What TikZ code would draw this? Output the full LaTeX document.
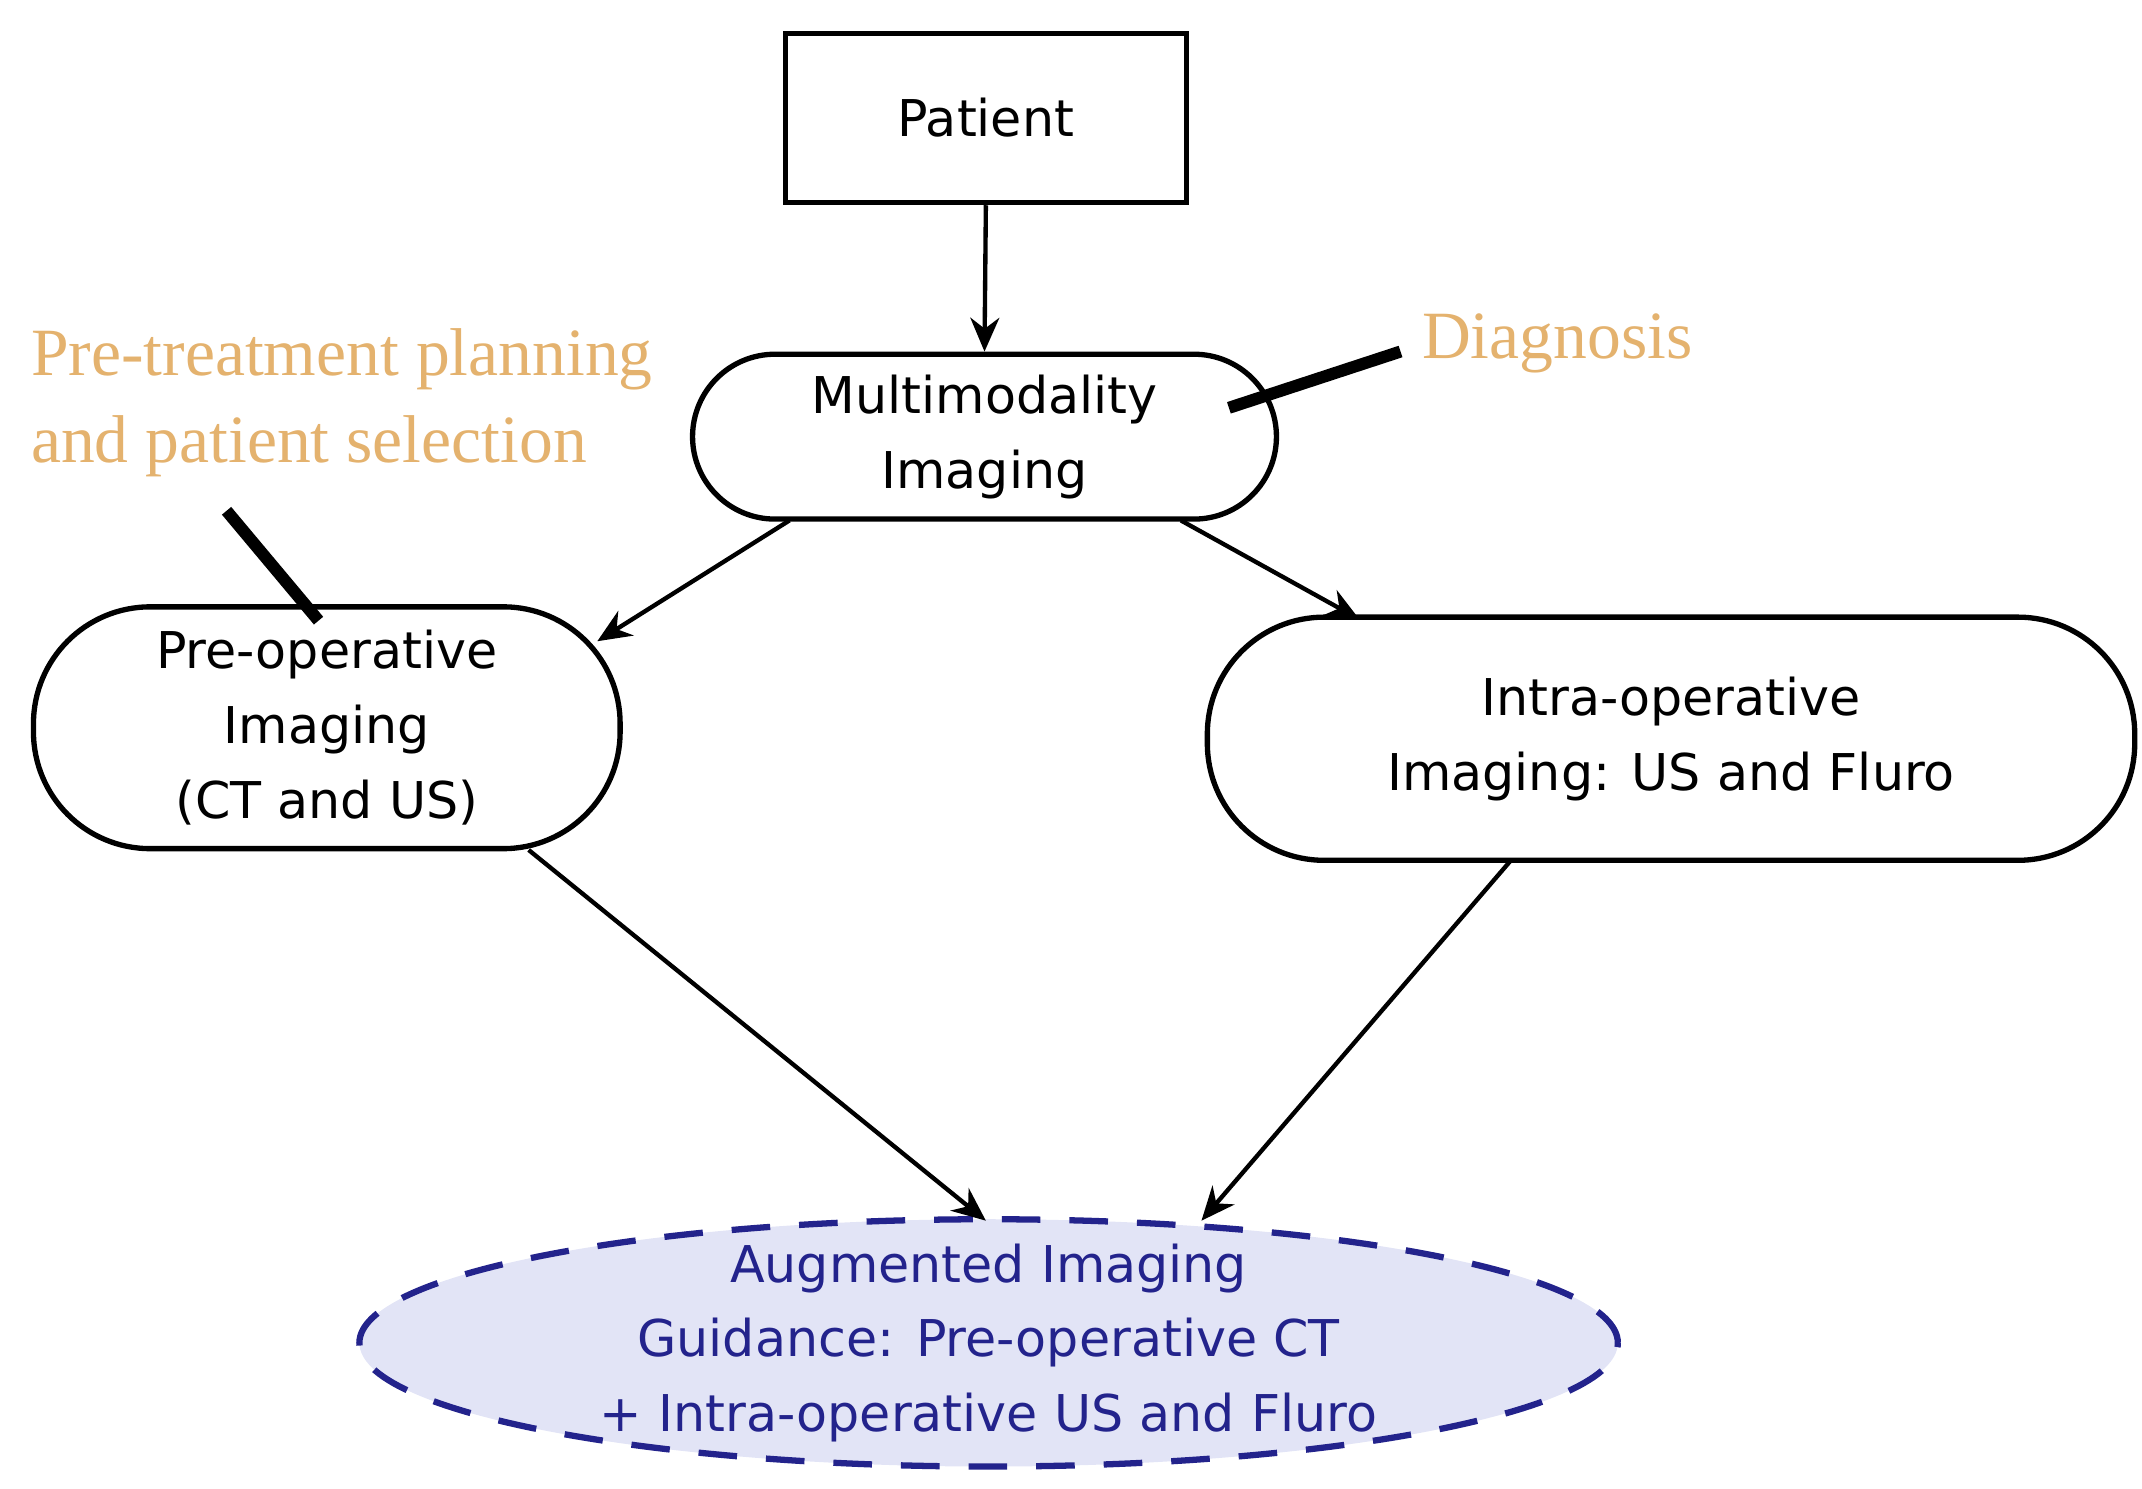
\documentclass[tikz,border=0pt]{standalone}
\usepackage{fontspec}
\setmainfont{DejaVu Sans}
\newfontfamily\ser{Liberation Serif}
\usetikzlibrary{shapes.geometric,arrows.meta}
\definecolor{org}{RGB}{228,178,110}
\definecolor{navy}{RGB}{35,35,140}
\definecolor{lav}{RGB}{226,228,246}
\begin{document}
\begin{tikzpicture}[x=0.01cm,y=-0.01cm,
 box/.style={draw,line width=1.1pt,align=center,font=\fontsize{10.5}{15.5}\selectfont,inner sep=0pt},
 rbox/.style={box,rounded corners=0.6cm},
 arr/.style={-{Stealth[length=7pt,width=6pt]},line width=0.9pt},
 lbl/.style={font=\ser\fontsize{14}{18}\selectfont,text=org,align=left,inner sep=0pt}]
\useasboundingbox (0,0) rectangle (1560,1084);
\node[box,minimum width=2.92cm,minimum height=1.23cm] (pat) at (718,86) {Patient};
\node[rbox,minimum width=4.25cm,minimum height=1.2cm] (mm) at (717,318) {Multimodality\\Imaging};
\node[rbox,rounded corners=0.85cm,minimum width=4.27cm,minimum height=1.76cm] (pre) at (238,530) {Pre-operative\\Imaging\\(CT and US)};
\node[rbox,rounded corners=0.85cm,minimum width=6.75cm,minimum height=1.77cm] (intra) at (1217,538) {Intra-operative\\Imaging: US and Fluro};
\node[ellipse,draw=navy,line width=1.3pt,dash pattern=on 8pt off 6pt,fill=lav,text=navy,align=center,font=\fontsize{10.5}{15.5}\selectfont,minimum width=9.16cm,minimum height=1.8cm,inner sep=-0.3cm] (aug) at (720,978) {Augmented Imaging\\Guidance: Pre-operative CT\\+ Intra-operative US and Fluro};
\node[lbl,anchor=west] (diag) at (1035,250) {Diagnosis};
\node[lbl,anchor=west] (ptp) at (22,293) {Pre-treatment planning\\and patient selection};
\coordinate (d1) at (895,297); \coordinate (d2) at (1020,256);
\coordinate (p1) at (165,372); \coordinate (p2) at (232,452);
\draw[line width=2.5pt] (d1) -- (d2);
\draw[line width=2.5pt] (p1) -- (p2);
\draw[arr] (pat.south) -- (mm.north);
\draw[arr] (575,379) -- (435,467);
\draw[arr] (860,379) -- (990,451);
\draw[arr] (385,619) -- (718,889);
\draw[arr] (1100,627) -- (875,889);
\end{tikzpicture}
\end{document}
